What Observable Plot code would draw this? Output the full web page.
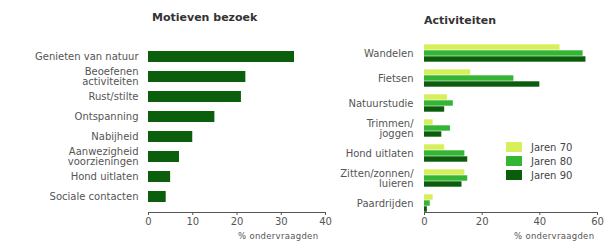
<!DOCTYPE html>
<html>
<head>
<meta charset="utf-8">
<script src="https://cdn.jsdelivr.net/npm/d3@7"></script>
<script src="https://cdn.jsdelivr.net/npm/@observablehq/plot@0.6"></script>
<style>
  html, body { margin: 0; padding: 0; background: #fff; }
  #wrap { position: relative; width: 604px; height: 242px; overflow: hidden; font-family: "DejaVu Sans", sans-serif; }
  .panel { position: absolute; top: 0; }
  .title { position: absolute; font-weight: bold; font-size: 11px; color: #333; white-space: nowrap; }
  .axlabel { position: absolute; font-size: 8.5px; line-height: 10px; color: #555; white-space: nowrap; letter-spacing: 0.3px; }
  .legend { position: absolute; left: 506px; top: 140px; font-size: 10px; color: #444; }
  .legend div { display: flex; align-items: center; height: 14px; }
  .legend span.sw { display: inline-block; width: 16px; height: 10px; margin-right: 9px; box-sizing: border-box; }
</style>
</head>
<body>
<div id="wrap">
  <div class="title" style="left:152px; top:11px;">Motieven bezoek</div>
  <div class="title" style="left:424px; top:14px;">Activiteiten</div>
  <div id="left" class="panel" style="left:0px;"></div>
  <div id="right" class="panel" style="left:330px;"></div>
  <div class="axlabel" style="left:238px; top:231px;">% ondervraagden</div>
  <div class="axlabel" style="left:514px; top:231px;">% ondervraagden</div>
  <div id="legend" class="legend"></div>
</div>
<script>
// Left panel: Motieven bezoek
const motieven = ["Genieten van natuur", "Beoefenen\nactiviteiten", "Rust/stilte", "Ontspanning", "Nabijheid", "Aanwezigheid\nvoorzieningen", "Hond uitlaten", "Sociale contacten"];
const motievenWaarden = [33, 22, 21, 15, 10, 7, 5, 4];

// Right panel: Activiteiten
const activiteiten = ["Wandelen", "Fietsen", "Natuurstudie", "Trimmen/\njoggen", "Hond uitlaten", "Zitten/zonnen/\nluieren", "Paardrijden"];
const jaren = ["Jaren 70", "Jaren 80", "Jaren 90"];
const jaren70 = [47, 16, 8, 3, 7, 14, 3];
const jaren80 = [55, 31, 10, 9, 14, 15, 2];
const jaren90 = [56, 40, 7, 6, 15, 13, 1];
const kleuren = ["#d8ef5c", "#34b534", "#0b5c0b"];

const xTicksLeft = [0, 10, 20, 30, 40];
const xTicksRight = [0, 20, 40, 60];

const leftData = motieven.map((m, i) => ({cat: m, v: motievenWaarden[i]}));
const rightData = [];
activiteiten.forEach((a, i) => {
  [jaren70, jaren80, jaren90].forEach((s, j) => rightData.push({cat: a, jaar: jaren[j], v: s[i]}));
});

const commonStyle = {fontFamily: "DejaVu Sans, sans-serif", fontSize: "10px", color: "#555", background: "transparent", overflow: "visible"};

const left = Plot.plot({
  width: 340, height: 242,
  marginLeft: 148, marginRight: 15, marginTop: 42, marginBottom: 30,
  style: commonStyle,
  x: {domain: [0, 40], ticks: xTicksLeft, line: true, tickSize: 3, tickPadding: 2, label: null},
  y: {domain: motieven, padding: 0.44, tickSize: 0, tickPadding: 10, label: null},
  marks: [
    Plot.barX(leftData, {x: "v", y: "cat", fill: "#0b5e0b"})
  ]
});
document.getElementById("left").appendChild(left);

const right = Plot.plot({
  width: 274, height: 242,
  marginLeft: 94, marginRight: 7, marginTop: 43, marginBottom: 28,
  style: commonStyle,
  facet: {data: rightData, y: "cat"},
  fy: {domain: activiteiten, padding: 0.27, label: null, axis: "left", tickSize: 0, tickPadding: 11},
  x: {domain: [0, 60], ticks: xTicksRight, line: true, tickSize: 3, tickPadding: 2, label: null},
  y: {domain: jaren, axis: null, padding: 0},
  color: {domain: jaren, range: kleuren},
  marks: [
    Plot.barX(rightData, {x: "v", y: "jaar", fill: "jaar", insetTop: 0.3, insetBottom: 0.3})
  ]
});
document.getElementById("right").appendChild(right);

const lg = document.getElementById("legend");
jaren.forEach((j, i) => {
  const row = document.createElement("div");
  const sw = document.createElement("span");
  sw.className = "sw";
  sw.style.background = kleuren[i];
  row.appendChild(sw);
  row.appendChild(document.createTextNode(j));
  lg.appendChild(row);
});
</script>
</body>
</html>
